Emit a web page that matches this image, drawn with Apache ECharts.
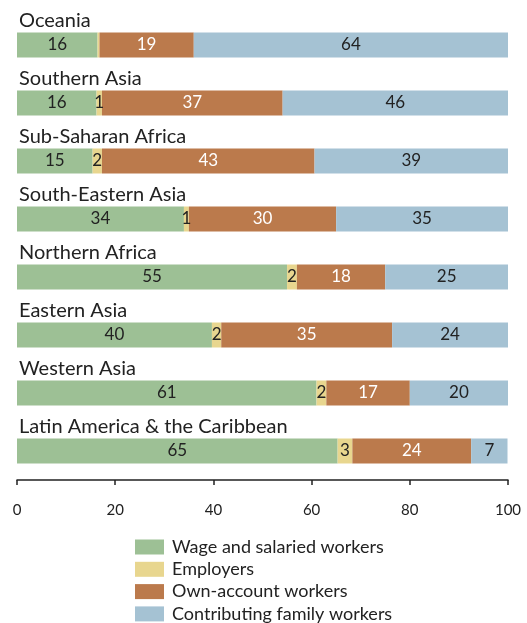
<!DOCTYPE html>
<html><head><meta charset="utf-8">
<script src="https://cdn.jsdelivr.net/npm/echarts@6/dist/echarts.min.js"></script>
<style>html,body{margin:0;padding:0;background:#fff}#c{width:527px;height:623px}</style>
</head><body><div id="c"></div>
<script>
const categories = ["Oceania","Southern Asia","Sub-Saharan Africa","South-Eastern Asia","Northern Africa","Eastern Asia","Western Asia","Latin America & the Caribbean"];
const wage = [16.4,16.2,15.4,34,55,39.7,61,65.3];
const employers = [0.4,1.1,1.9,1,2,1.9,2,3];
const ownAccount = [19.2,36.8,43.3,30,18,34.8,17,24.2];
const family = [64,45.9,39.4,35,25,23.6,20,7.4];
const xTicks = [0,20,40,60,80,100];

const chart = echarts.init(document.getElementById('c'));
const font = 'Lato, "Open Sans", sans-serif';
function mk(name, data, color, labelColor){
  return {
    name, type:'bar', stack:'a', barWidth:25,
    data: data,
    itemStyle:{color},
    label:{show:true, position:'inside', color:labelColor, fontSize:17, fontFamily:font,
      formatter:p=>{const r=Math.round(p.value);return r>0?String(r):'';}},
    emphasis:{disabled:true}
  };
}
chart.setOption({
  animation:false,
  textStyle:{fontFamily:font},
  grid:{left:17,right:19,top:16,height:464,containLabel:false},
  xAxis:{type:'value',min:0,max:100,interval:20,
    axisLine:{show:true,lineStyle:{color:'#222',width:1.5}},
    axisTick:{show:true,length:5,lineStyle:{color:'#222',width:1.5}},
    splitLine:{show:false},
    axisLabel:{color:'#222',fontSize:15,margin:23,fontFamily:font,
      formatter:v=>xTicks.includes(v)?String(v):''}
  },
  yAxis:{type:'category',data:categories,inverse:true,z:10,
    axisLine:{show:false},axisTick:{show:false},
    axisLabel:{inside:true,interval:0,align:'left',verticalAlign:'middle',margin:2,
      formatter:v=>'{a|'+v+'}\n{b| }',
      rich:{a:{fontSize:20,lineHeight:20,color:'#222',fontFamily:font},b:{fontSize:10,lineHeight:48}}
    }
  },
  legend:{orient:'vertical',left:135,top:538,height:120,padding:0,itemWidth:29,itemHeight:15,itemGap:4.3,
    icon:'rect',textStyle:{color:'#222',fontSize:18,fontFamily:font,padding:[0,0,0,3]},
    data:['Wage and salaried workers','Employers','Own-account workers','Contributing family workers']},
  series:[
    mk('Wage and salaried workers',wage,'#9dc095','#222'),
    mk('Employers',employers,'#e8d68f','#222'),
    mk('Own-account workers',ownAccount,'#bb7a4c','#fff'),
    mk('Contributing family workers',family,'#a5c2d3','#222')
  ]
});
</script></body></html>
